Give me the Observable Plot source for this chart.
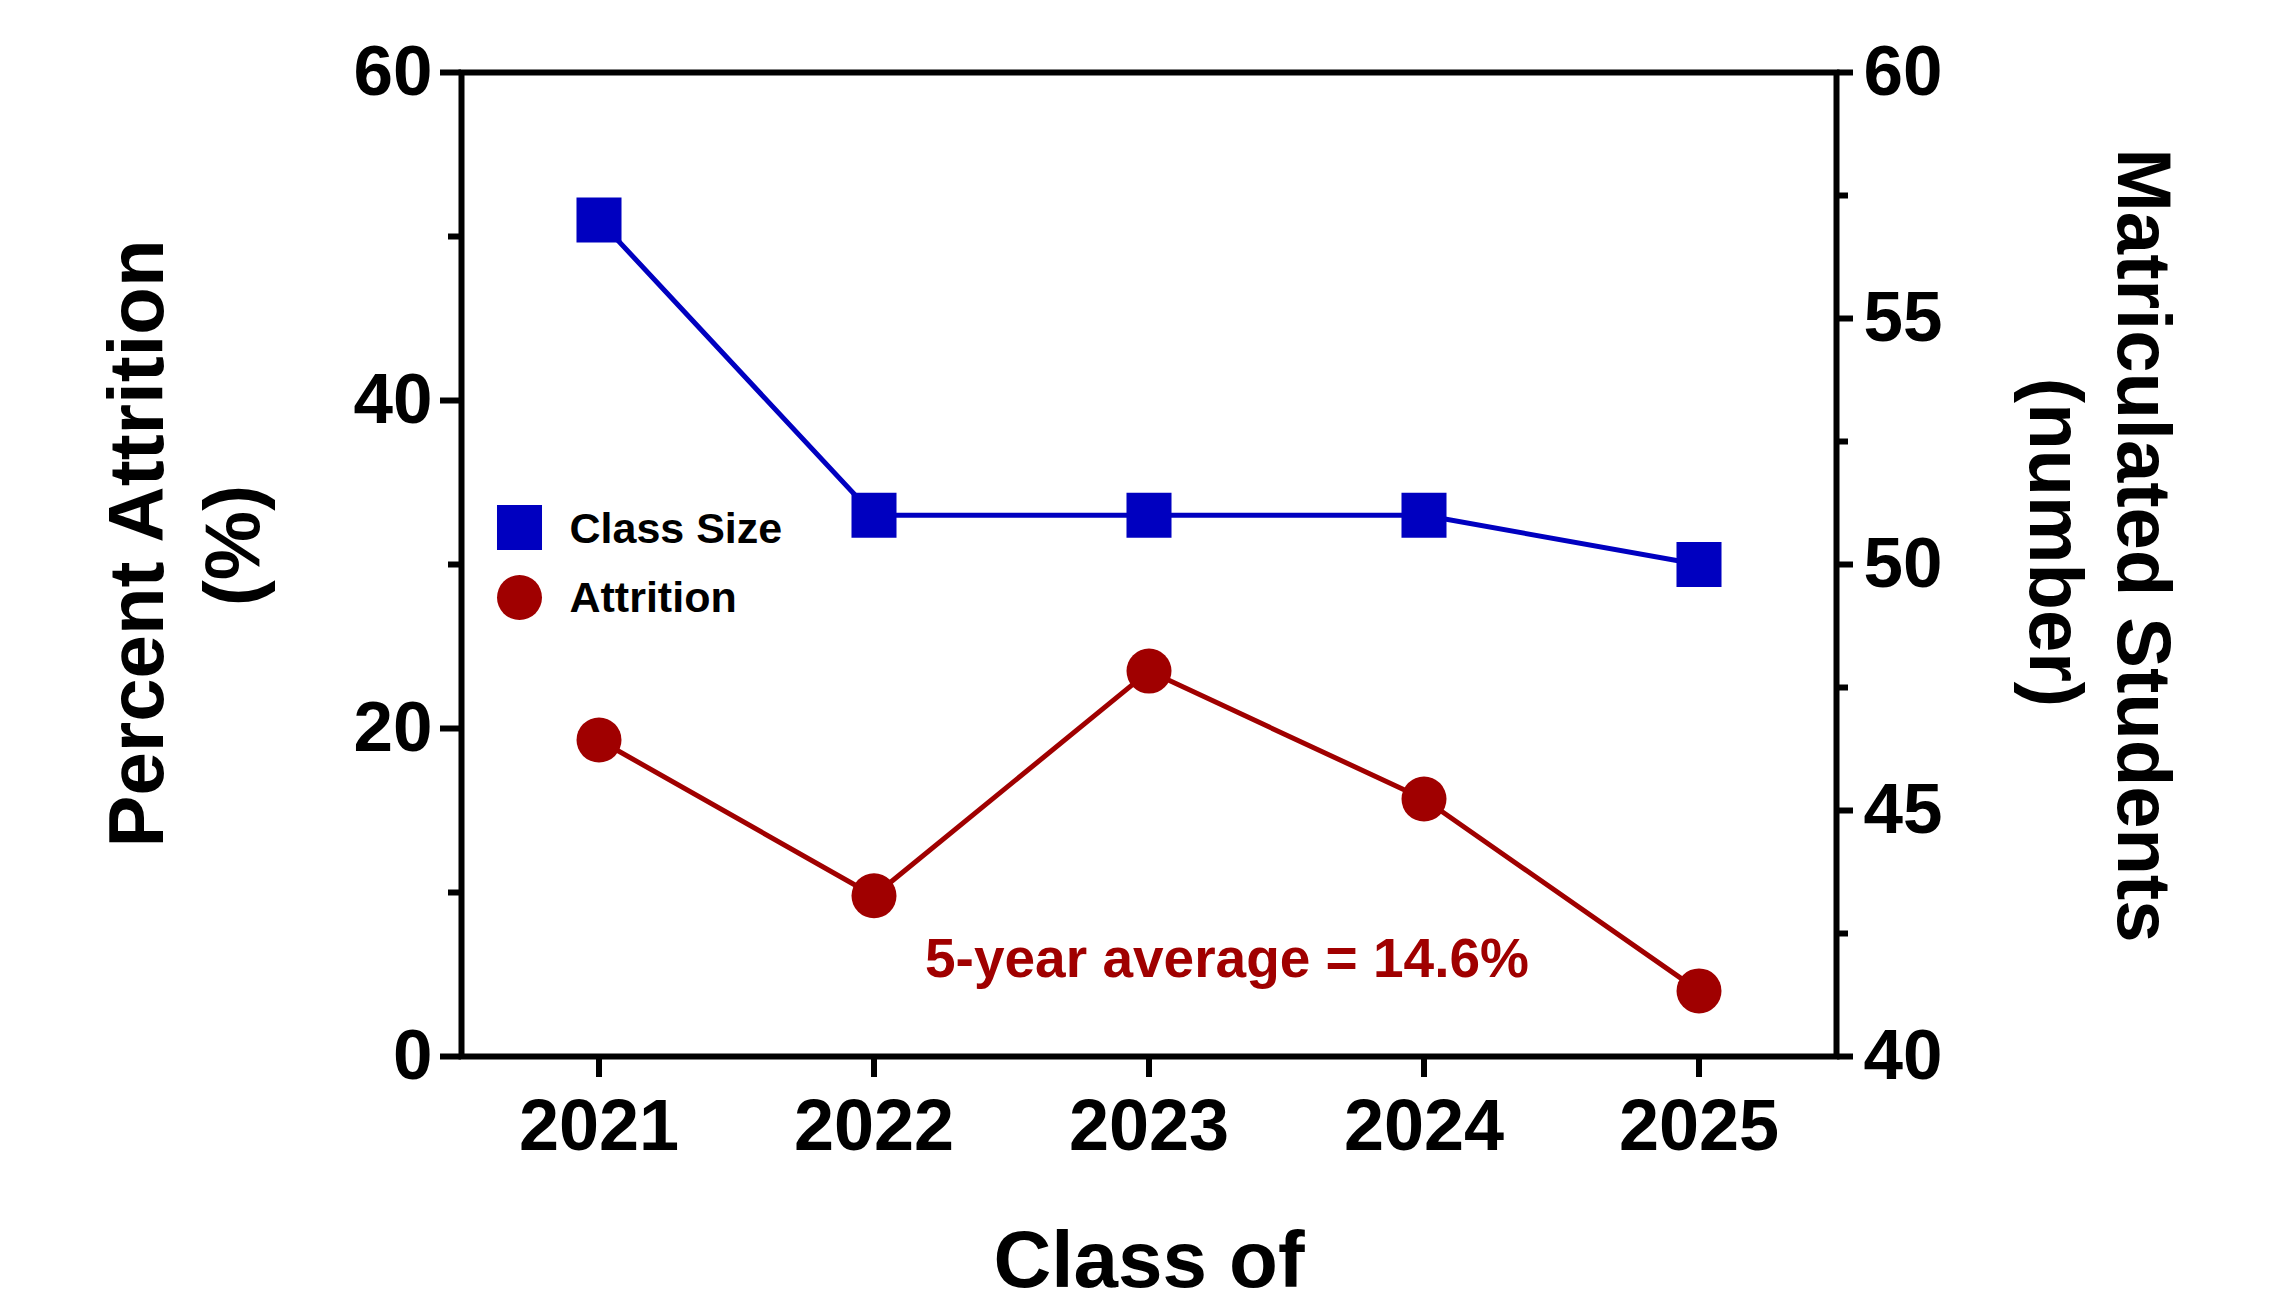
<!DOCTYPE html>
<html><head><meta charset="utf-8">
<script src="https://cdn.jsdelivr.net/npm/d3@7"></script>
<script src="https://cdn.jsdelivr.net/npm/@observablehq/plot@0.6"></script>
<style>html,body{margin:0;padding:0;background:#fff;}</style>
</head><body><div id="chart"></div>
<script>
const years = [2021, 2022, 2023, 2024, 2025];
const classSize = [57, 51, 51, 51, 50];
const attrition = [19.3, 9.8, 23.5, 15.7, 4.0];
const leftTicks = [0, 20, 40, 60];
const leftMinorTicks = [10, 30, 50];
const rightTicks = [40, 45, 50, 55, 60];
const rightMinorTicks = [42.5, 47.5, 52.5, 57.5];
const seriesNames = ["Class Size", "Attrition"];
const leftTitle = ["Percent Attrition", "(%)"];
const rightTitle = ["Matriculated Students", "(number)"];
const xTitle = "Class of";
const averageLabel = "5-year average = 14.6%";

const blue = "#0000c0";
const red = "#a00000";
const font = "'Liberation Sans', Arial, Helvetica, sans-serif";

const leftDomain = [0, 60];
const rightDomain = [40, 60];
const toLeft = v => (v - rightDomain[0]) * (leftDomain[1] - leftDomain[0]) / (rightDomain[1] - rightDomain[0]);
const fromLeft = v => v * (rightDomain[1] - rightDomain[0]) / (leftDomain[1] - leftDomain[0]) + rightDomain[0];

const rows = years.map((year, i) => ({year, size: classSize[i], attrition: attrition[i]}));

const txt = {fontWeight: "bold", fill: "black", textAnchor: "middle"};

const chart = Plot.plot({
  width: 2272,
  height: 1292,
  marginLeft: 461,
  marginRight: 436,
  marginTop: 72,
  marginBottom: 236,
  style: {fontFamily: font, fontWeight: "bold", background: "white", color: "black"},
  x: {domain: [2020.5, 2025.5], label: null},
  y: {domain: leftDomain, label: null},
  marks: [
    Plot.frame({stroke: "black", strokeWidth: 6}),
    Plot.axisY({anchor: "left", ticks: leftTicks, tickSize: 21, tickPadding: 8, strokeWidth: 6, fontSize: 71, fontWeight: "bold", label: null, tickFormat: d3.format("d")}),
    Plot.axisY({anchor: "left", ticks: leftMinorTicks, tickSize: 13, strokeWidth: 6, label: null, tickFormat: () => ""}),
    Plot.axisY({anchor: "right", ticks: rightTicks.map(toLeft), tickSize: 16, tickPadding: 11, strokeWidth: 6, fontSize: 71, fontWeight: "bold", label: null, tickFormat: d => d3.format("d")(fromLeft(d))}),
    Plot.axisY({anchor: "right", ticks: rightMinorTicks.map(toLeft), tickSize: 11, strokeWidth: 6, label: null, tickFormat: () => ""}),
    Plot.axisX({ticks: years, tickSize: 21, tickPadding: 21, strokeWidth: 6, fontSize: 72, fontWeight: "bold", label: null, tickFormat: d3.format("d")}),
    // series
    Plot.line(rows, {x: "year", y: d => toLeft(d.size), stroke: blue, strokeWidth: 5}),
    Plot.dot(rows, {x: "year", y: d => toLeft(d.size), symbol: "square", r: 25.4, fill: blue, stroke: "none"}),
    Plot.line(rows, {x: "year", y: "attrition", stroke: red, strokeWidth: 5}),
    Plot.dot(rows, {x: "year", y: "attrition", symbol: "circle", r: 22.5, fill: red, stroke: "none"}),
    // annotation
    Plot.text([averageLabel], {...txt, text: d => d, frameAnchor: "bottom", dx: 78, dy: -80, lineAnchor: "bottom", fill: red, fontSize: 55}),
    // legend
    Plot.dot([seriesNames[0]], {frameAnchor: "top-left", dx: 58, dy: 455, symbol: "square", r: 25.4, fill: blue, stroke: "none"}),
    Plot.dot([seriesNames[1]], {frameAnchor: "top-left", dx: 58, dy: 525, symbol: "circle", r: 22.5, fill: red, stroke: "none"}),
    Plot.text([seriesNames[0]], {...txt, text: d => d, frameAnchor: "top-left", dx: 108, dy: 457, textAnchor: "start", lineAnchor: "middle", fontSize: 43}),
    Plot.text([seriesNames[1]], {...txt, text: d => d, frameAnchor: "top-left", dx: 108, dy: 526, textAnchor: "start", lineAnchor: "middle", fontSize: 43}),
    // axis titles
    Plot.text([leftTitle[0]], {...txt, text: d => d, frameAnchor: "left", rotate: -90, dx: -299, dy: -21, lineAnchor: "bottom", fontSize: 78}),
    Plot.text([leftTitle[1]], {...txt, text: d => d, frameAnchor: "left", rotate: -90, dx: -203, dy: -19, lineAnchor: "bottom", fontSize: 78}),
    Plot.text([rightTitle[0]], {...txt, text: d => d, frameAnchor: "right", rotate: 90, dx: 281, dy: -19, lineAnchor: "bottom", fontSize: 76}),
    Plot.text([rightTitle[1]], {...txt, text: d => d, frameAnchor: "right", rotate: 90, dx: 193, dy: -22, lineAnchor: "bottom", fontSize: 76}),
    Plot.text([xTitle], {...txt, text: d => d, frameAnchor: "bottom", dy: 174, lineAnchor: "top", fontSize: 80})
  ]
});
document.getElementById("chart").appendChild(chart);
</script>
</body></html>
